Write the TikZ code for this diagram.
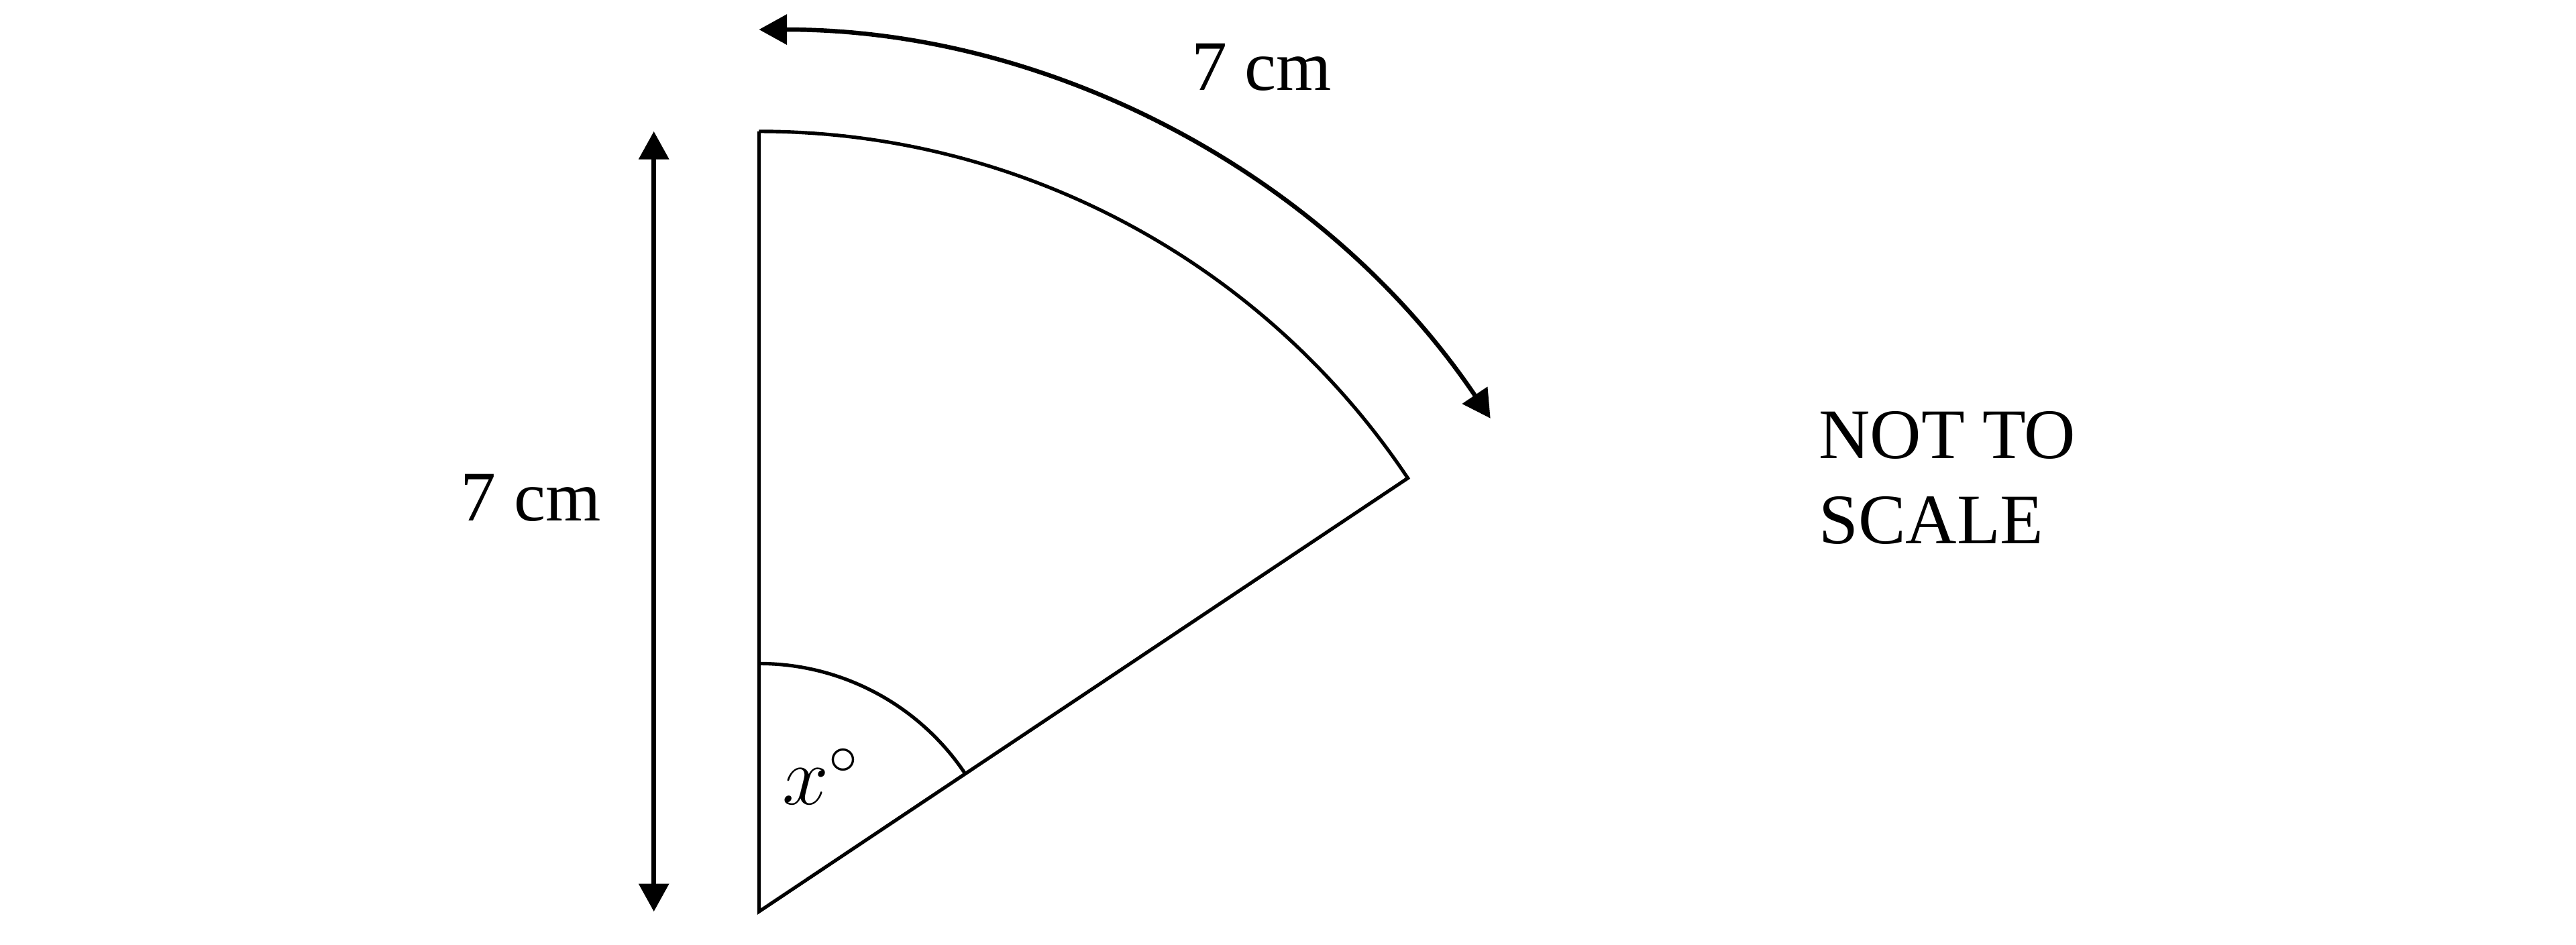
\documentclass[tikz,border=0pt]{standalone}
\usepackage{fontspec}
\setmainfont{Liberation Serif}
\usepackage{tikz}
\usetikzlibrary{arrows.meta,positioning}

\begin{document}
\begin{tikzpicture}[
        line width=0.6pt,
        >={Triangle[length=1.7mm,width=1.8mm]},
        dimline/.style={<->, line width=0.75pt},
        lbl/.style={font=\fontsize{12.3}{14.8}\selectfont, inner sep=0pt}
        ]
    \useasboundingbox (-4.62,-0.20) rectangle (11.06,5.55);

        % Points
        \coordinate (apex) at (0,0);
        \coordinate (top) at (90:4.75);
        \coordinate (corner) at (33.75:4.75);
        \coordinate (armup) at (90:1.51);
        \coordinate (dimtop) at (-0.64,4.75);
        \coordinate (dimbot) at (-0.64,0);
        \coordinate (arcstart) at (90:5.37);

        % Sector
        \draw (top) -- (apex) -- (corner) arc[start angle=33.75, end angle=90, radius=4.75] -- cycle;
        \draw (armup) arc[start angle=90, end angle=33.75, radius=1.51];

        % Dimensions
        \draw[dimline] (dimtop) -- (dimbot);
        \draw[dimline] (arcstart) arc[start angle=90, end angle=34, radius=5.37];

        % Labels
        \node[lbl] (side) at (-1.39,2.52) {7 cm};
        \node[lbl] (arclen) at (3.06,5.14) {7 cm};
        \node[font=\fontsize{14.5}{16}\selectfont, inner sep=0pt] (ang) at (0.38,0.82) {$x^\circ$};
        \node[lbl, anchor=west, align=left] (note) at (6.44,2.64) {NOT TO\\SCALE};

    \end{tikzpicture}
\end{document}
